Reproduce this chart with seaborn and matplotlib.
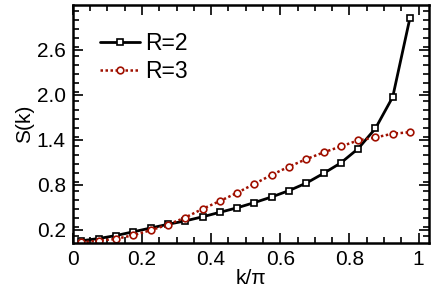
import numpy as np
import pandas as pd
import seaborn as sns
import matplotlib
matplotlib.use('Agg')
import matplotlib.pyplot as plt
from matplotlib.ticker import MultipleLocator

# dados
k = [0.025, 0.075, 0.125, 0.175, 0.225, 0.275, 0.325, 0.375, 0.425, 0.475,
     0.525, 0.575, 0.625, 0.675, 0.725, 0.775, 0.825, 0.875, 0.925, 0.975]
s_r2 = [0.05, 0.08, 0.12, 0.17, 0.22, 0.27, 0.315, 0.37, 0.43, 0.49,
        0.56, 0.635, 0.72, 0.82, 0.95, 1.09, 1.28, 1.55, 1.97, 3.03]
s_r3 = [0.03, 0.05, 0.075, 0.125, 0.19, 0.265, 0.36, 0.475, 0.58, 0.69,
        0.81, 0.93, 1.04, 1.14, 1.23, 1.31, 1.39, 1.43, 1.48, 1.50]
xticks = [0, 0.2, 0.4, 0.6, 0.8, 1]
xticklabels = ['0', '0.2', '0.4', '0.6', '0.8', '1']
yticks = [0.2, 0.8, 1.4, 2.0, 2.6]

df = pd.DataFrame({'k': k, 'R=2': s_r2, 'R=3': s_r3})

sns.set_style('ticks')
plt.rcParams['font.family'] = ['Liberation Sans', 'DejaVu Sans']
for chave in ['text.color', 'axes.labelcolor', 'xtick.color', 'ytick.color', 'axes.edgecolor']:
    plt.rcParams[chave] = 'black'

fig = plt.figure(figsize=(4.36, 3.08), dpi=100)
ax = fig.add_axes([0.167, 0.211, 0.817, 0.773])

sns.lineplot(data=df, x='k', y='R=2', ax=ax, color='black', linewidth=2,
             marker='s', markersize=4.6, markerfacecolor='white',
             markeredgecolor='black', markeredgewidth=1.2, label='R=2')
sns.lineplot(data=df, x='k', y='R=3', ax=ax, color='#A01000', linewidth=1.8,
             linestyle=(0, (1, 1)), marker='o', markersize=4.8,
             markerfacecolor='white', markeredgecolor='#A01000',
             markeredgewidth=1.2, label='R=3')

ax.set_xlim(0, 1.03)
ax.set_ylim(0.02, 3.2)
ax.set_xticks(xticks)
ax.set_xticklabels(xticklabels)
ax.set_yticks(yticks)
ax.xaxis.set_minor_locator(MultipleLocator(0.05))
ax.yaxis.set_minor_locator(MultipleLocator(0.12))
ax.tick_params(which='both', direction='in', top=True, right=True, width=1.2)
ax.tick_params(which='major', length=7, labelsize=15, pad=5)
ax.tick_params(which='minor', length=4)
for sp in ax.spines.values():
    sp.set_linewidth(1.8)
ax.set_xlabel('k/\u03c0', fontsize=15, labelpad=0)
ax.set_ylabel('S(k)', fontsize=15, labelpad=2)

ax.legend(loc='upper left', frameon=False, fontsize=16.5, handlelength=1.75,
          handletextpad=0.2, borderaxespad=0.8, borderpad=0.4, labelspacing=0.2)

fig.savefig('out.png', dpi=100)
